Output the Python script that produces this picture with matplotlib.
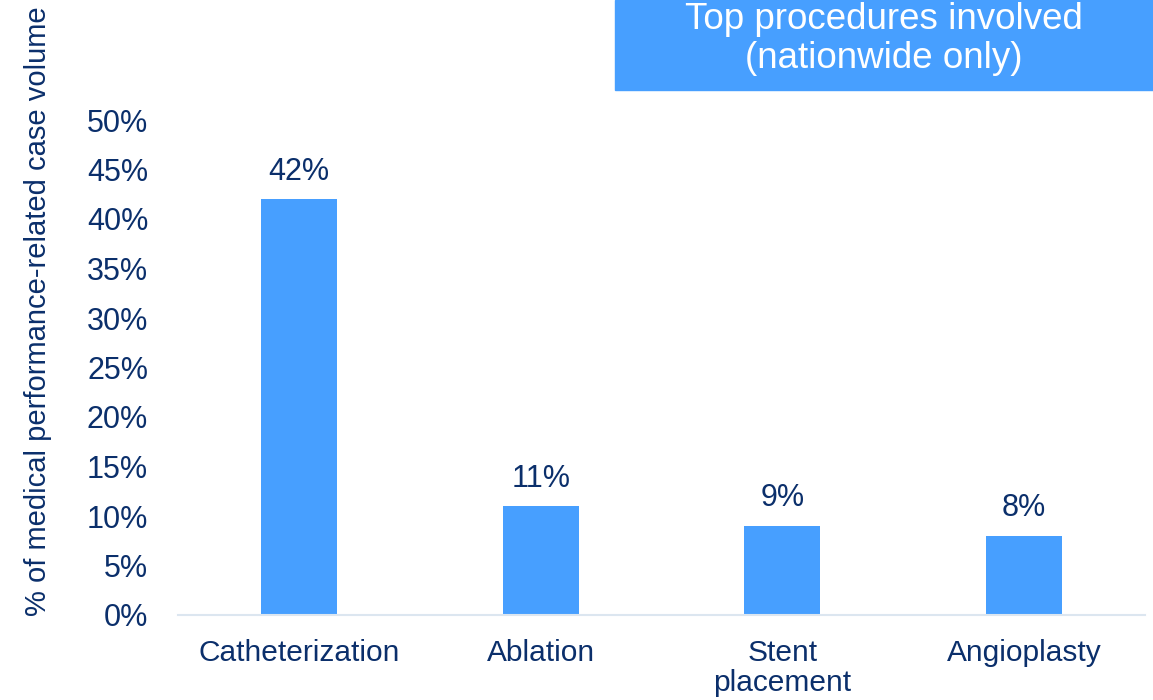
import matplotlib
matplotlib.use("Agg")
import matplotlib.pyplot as plt
from matplotlib.patches import Rectangle

categories = ["Catheterization", "Ablation", "Stent\nplacement", "Angioplasty"]
values = [42, 11, 9, 8]
yticks = [0, 5, 10, 15, 20, 25, 30, 35, 40, 45, 50]
ylabel = "% of medical performance-related case volume"
title = "Top procedures involved\n(nationwide only)"

BAR = "#479FFF"
NAVY = "#0B2F6B"
plt.rcParams['font.family'] = ['Liberation Sans', 'DejaVu Sans']

fig = plt.figure(figsize=(11.53, 7), dpi=100)
ax = fig.add_axes([178/1153, 1-615/700, (1145-178)/1153, (615-120)/700])

x = list(range(len(categories)))
ax.bar(x, values, width=0.315, color=BAR, zorder=2)
for xi, v in zip(x, values):
    ax.annotate(f"{v}%", (xi, v), xytext=(0, 9), textcoords="offset points",
                ha="center", va="bottom", fontsize=22, color=NAVY)

ax.set_xlim(-0.5, len(categories) - 0.5)
ax.set_ylim(0, 50)
ax.set_yticks(yticks)
ax.set_yticklabels([f"{t}%" for t in yticks], fontsize=22, color=NAVY)
ax.set_xticks(x)
ax.set_xticklabels(categories, fontsize=21.5, color=NAVY, linespacing=1.12)
ax.tick_params(axis="both", length=0)
ax.tick_params(axis="y", pad=21.5)
ax.tick_params(axis="x", pad=17)
for s in ["top", "right", "left"]:
    ax.spines[s].set_visible(False)
ax.spines["bottom"].set_color("#DCE6F0")
ax.spines["bottom"].set_linewidth(1.5)

fig.text(38/1153, 1-311/700, ylabel, rotation=90, ha="center", va="center",
         fontsize=21, color=NAVY)

fig.patches.append(Rectangle((615/1153, 1-90/700), 1-615/1153, 90/700,
                             transform=fig.transFigure, color=BAR, zorder=0))
fig.text(884/1153, 1-39/700, title, ha="center", va="center", fontsize=26.5,
         color="white", linespacing=1.17)

fig.savefig("out.png", dpi=100)
